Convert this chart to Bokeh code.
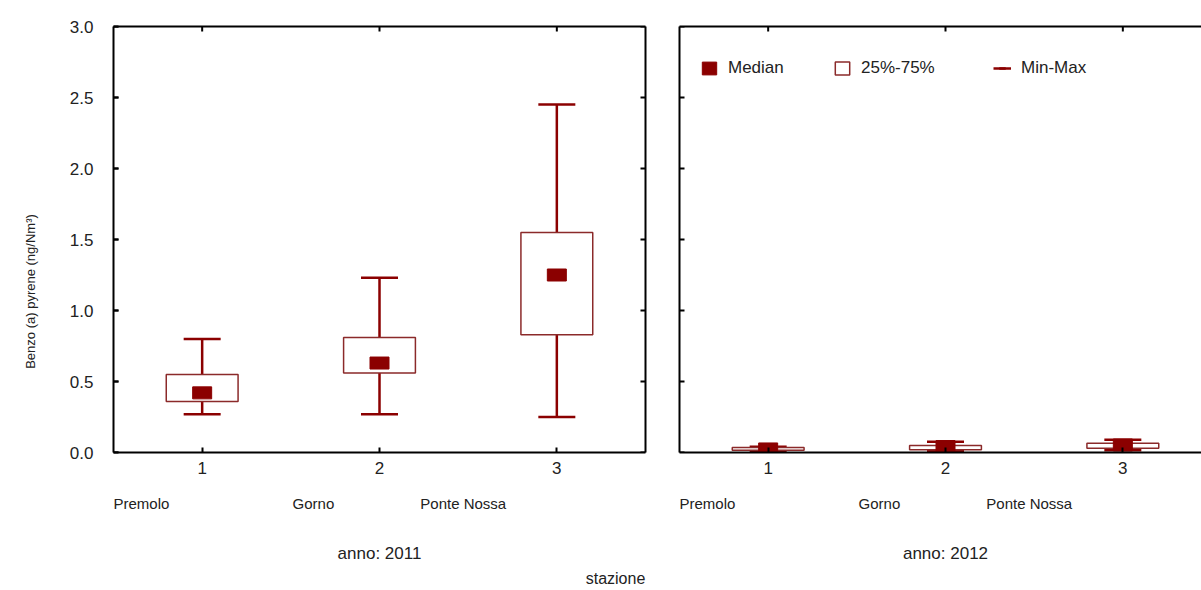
from bokeh.plotting import figure
from bokeh.layouts import row, column
from bokeh.models import (ColumnDataSource, FixedTicker, LinearAxis, Label,
                          Legend, LegendItem, Range1d, PrintfTickFormatter)
from bokeh.embed import file_html
from bokeh.resources import INLINE

# Stations and their positions on the x axis
stations = ["Premolo", "Gorno", "Ponte Nossa"]
station_pos = [1, 2, 3]
station_ticks = ["1", "2", "3"]

# Benzo(a)pyrene, ng/Nm3 - year 2011
min_2011 = [0.27, 0.27, 0.25]
q1_2011 = [0.36, 0.56, 0.83]
med_2011 = [0.42, 0.63, 1.25]
q3_2011 = [0.55, 0.81, 1.55]
max_2011 = [0.80, 1.23, 2.45]

# Benzo(a)pyrene, ng/Nm3 - year 2012
min_2012 = [0.005, 0.010, 0.015]
q1_2012 = [0.015, 0.020, 0.030]
med_2012 = [0.025, 0.042, 0.053]
q3_2012 = [0.035, 0.050, 0.065]
max_2012 = [0.040, 0.075, 0.090]

y_ticks = [0.0, 0.5, 1.0, 1.5, 2.0, 2.5, 3.0]

DARK_RED = "#8b0000"
BOX_EDGE = "#8b2a2a"
TEXT = "#222222"
FONT = "Liberation Sans"

PX_PER_X = 532 / 3.0      # frame width / x span
FRAME_TOP = 26
FRAME_H = 426
TOP_H = 492               # height of the row holding the panels
BOTTOM_H = 590 - TOP_H    # height of the row holding the captions
YLAB_W = 45               # strip holding the y axis title


def style_axis(ax):
    ax.axis_line_width = 2
    ax.axis_line_color = "black"
    ax.major_tick_in = 5
    ax.major_tick_out = 0
    ax.minor_tick_in = 0
    ax.minor_tick_out = 0
    ax.major_tick_line_width = 2
    ax.major_label_text_font = FONT
    ax.major_label_text_font_size = "17px"
    ax.major_label_text_color = TEXT


def bare_axis(p, side):
    # frame edge drawn as an axis line without ticks or labels
    ax = LinearAxis(ticker=FixedTicker(ticks=[]))
    ax.axis_line_width = 2
    ax.axis_line_color = "black"
    ax.major_tick_in = 0
    ax.major_tick_out = 0
    ax.minor_tick_in = 0
    ax.minor_tick_out = 0
    p.add_layout(ax, side)


def make_panel(mins, q1s, meds, q3s, maxs, width, border_left, border_right,
               x_end, left_panel):
    p = figure(width=width, height=TOP_H, output_backend="svg",
               toolbar_location=None, x_axis_type=None, y_axis_type=None,
               x_range=Range1d(0.5, x_end), y_range=Range1d(0, 3.0),
               min_border_left=border_left, min_border_right=border_right,
               min_border_top=FRAME_TOP,
               min_border_bottom=TOP_H - FRAME_TOP - FRAME_H)
    p.outline_line_color = None

    bottom = LinearAxis(ticker=FixedTicker(ticks=station_pos))
    bottom.major_label_overrides = {k: v for k, v in zip(station_pos, station_ticks)}
    style_axis(bottom)
    bottom.major_label_standoff = 9
    p.add_layout(bottom, "below")

    if left_panel:
        left = LinearAxis(ticker=FixedTicker(ticks=y_ticks),
                          formatter=PrintfTickFormatter(format="%.1f"))
        style_axis(left)
        left.major_label_standoff = 20
        p.add_layout(left, "left")
        bare_axis(p, "right")
    else:
        bare_axis(p, "left")
    bare_axis(p, "above")

    p.ygrid.ticker = FixedTicker(ticks=y_ticks)
    p.ygrid.grid_line_color = "#b5b5b5"
    p.ygrid.grid_line_dash = "3 2"
    p.ygrid.grid_line_width = 1
    p.xgrid.visible = False

    # inward tick marks on the frame edges (the outer half is clipped away)
    p.scatter(x=[0.5] * len(y_ticks), y=y_ticks, marker="dash", size=10,
              line_color="black", line_width=2)
    p.scatter(x=station_pos, y=[3.0] * len(station_pos), marker="dash",
              size=10, angle=1.5708, line_color="black", line_width=2)
    if left_panel:
        p.scatter(x=[3.5] * len(y_ticks), y=y_ticks, marker="dash", size=10,
                  line_color="black", line_width=2)

    src = ColumnDataSource(dict(x=station_pos, lo=mins, q1=q1s, med=meds,
                                q3=q3s, hi=maxs))

    whisk = p.segment(x0="x", y0="lo", x1="x", y1="hi", source=src,
                      line_color=DARK_RED, line_width=2.5)
    p.scatter(x="x", y="lo", source=src, marker="dash", size=37,
              line_color=DARK_RED, line_width=2.5)
    cap = p.scatter(x="x", y="hi", source=src, marker="dash", size=37,
                    line_color=DARK_RED, line_width=2.5)
    box = p.vbar(x="x", width=0.405, bottom="q1", top="q3", source=src,
                 fill_color="white", line_color=BOX_EDGE, line_width=1.5)
    med = p.rect(x="x", y="med", width=19, height=12, width_units="screen",
                 height_units="screen", source=src, fill_color=DARK_RED,
                 line_color=DARK_RED)
    return p, whisk, cap, box, med


def caption_strip(width, frame_left, year, with_title):
    # strip under a panel, sharing the panel's x scale
    x0 = 0.5 - frame_left / PX_PER_X
    p = figure(width=width, height=BOTTOM_H, output_backend="svg",
               toolbar_location=None, x_axis_type=None, y_axis_type=None,
               x_range=Range1d(x0, x0 + width / PX_PER_X),
               y_range=Range1d(0, BOTTOM_H), min_border=0)
    p.outline_line_color = None
    p.grid.visible = False
    name_x = [0.5, 1.51, 2.23]
    for nx, name in zip(name_x, stations):
        p.add_layout(Label(x=nx, y=BOTTOM_H - 11, y_units="screen", text=name,
                           text_font=FONT, text_font_size="15px",
                           text_color=TEXT, text_align="left",
                           text_baseline="middle"))
    p.add_layout(Label(x=2, y=BOTTOM_H - 61, y_units="screen",
                       text="anno: " + year, text_font=FONT,
                       text_font_size="17px", text_color=TEXT,
                       text_align="center", text_baseline="middle"))
    if with_title:
        p.add_layout(Label(x=0.5 + (615 - frame_left) / PX_PER_X,
                           y=BOTTOM_H - 86, y_units="screen", text="stazione",
                           text_font=FONT, text_font_size="16px",
                           text_color=TEXT, text_align="center",
                           text_baseline="middle"))
    return p


left_w = 660 - YLAB_W
left_p, *_ = make_panel(min_2011, q1_2011, med_2011, q3_2011, max_2011,
                        width=left_w, border_left=113 - YLAB_W,
                        border_right=15, x_end=3.5, left_panel=True)

right_w = 1201 - 660
right_frame = right_w - 19
right_p, whisk, cap, box, med = make_panel(
    min_2012, q1_2012, med_2012, q3_2012, max_2012,
    width=right_w, border_left=19, border_right=0,
    x_end=0.5 + right_frame / PX_PER_X, left_panel=False)

legend_items = [("Median", [med], 21), ("25%-75%", [box], 154),
                ("Min-Max", [whisk, cap], 314)]
for label, rends, lx in legend_items:
    right_p.add_layout(Legend(items=[LegendItem(label=label, renderers=rends)],
                              location=(lx, FRAME_H - 52), padding=0, margin=0,
                              label_standoff=10, glyph_width=18,
                              glyph_height=16, label_text_font=FONT,
                              label_text_font_size="17px",
                              label_text_color=TEXT, border_line_color=None,
                              background_fill_alpha=0))

# y axis title strip
ylab = figure(width=YLAB_W, height=TOP_H, output_backend="svg",
              toolbar_location=None, x_axis_type=None, y_axis_type=None,
              x_range=Range1d(0, YLAB_W), y_range=Range1d(0, TOP_H),
              min_border=0)
ylab.outline_line_color = None
ylab.grid.visible = False
ylab.add_layout(Label(x=30, y=TOP_H - 331, x_units="screen", y_units="screen",
                      text="Benzo (a) pyrene (ng/Nm³)", angle=1.5708,
                      text_font=FONT, text_font_size="13px", text_color=TEXT,
                      text_align="center", text_baseline="middle"))

bottom_left = caption_strip(660, 113, "2011", True)
bottom_right = caption_strip(right_w, 19, "2012", False)

layout = column(row(ylab, left_p, right_p, spacing=0),
                row(bottom_left, bottom_right, spacing=0), spacing=0)
open("out.html", "w").write(file_html(layout, INLINE))
